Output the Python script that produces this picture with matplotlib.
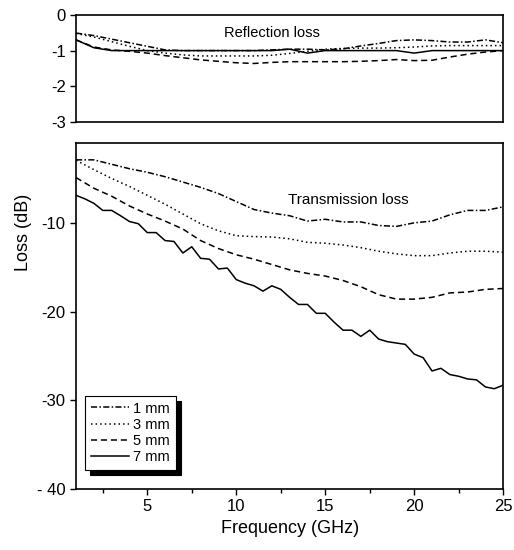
import matplotlib
matplotlib.use('Agg')
import matplotlib.pyplot as plt
from matplotlib.patches import Shadow

plt.rcParams['font.family'] = ['Liberation Sans', 'DejaVu Sans']
plt.rcParams['axes.unicode_minus'] = False

# frequency grids (GHz)
freq = list(range(1, 26))
freq_fine = [1 + 0.5 * i for i in range(49)]

# reflection loss (dB)
refl_1mm = [-0.51, -0.58, -0.68, -0.78, -0.88, -0.98, -1.0, -1.0, -1.0, -1.0, -1.0, -0.98, -0.96,
            -0.96, -0.98, -0.95, -0.87, -0.8, -0.72, -0.70, -0.72, -0.76, -0.76, -0.70, -0.78]
refl_3mm = [-0.52, -0.62, -0.75, -0.88, -1.0, -1.07, -1.12, -1.15, -1.15, -1.15, -1.15, -1.13, -1.08,
            -1.02, -0.96, -0.94, -0.93, -0.93, -0.92, -0.9, -0.87, -0.86, -0.86, -0.86, -0.86]
refl_5mm = [-0.7, -0.9, -0.98, -1.02, -1.07, -1.14, -1.2, -1.26, -1.3, -1.34, -1.36, -1.33, -1.31,
            -1.31, -1.31, -1.31, -1.30, -1.28, -1.25, -1.28, -1.27, -1.18, -1.1, -1.04, -1.0]
refl_7mm = [-0.7, -0.92, -1.0, -1.0, -1.0, -1.0, -1.0, -1.0, -1.0, -1.0, -1.0, -1.0, -0.96,
            -1.07, -1.0, -1.0, -1.0, -1.0, -1.0, -1.07, -1.0, -1.0, -1.0, -1.0, -1.0]

# transmission loss (dB)
trans_1mm = [-2.9, -2.9, -3.4, -3.9, -4.3, -4.8, -5.4, -6.0, -6.7, -7.6, -8.5, -8.9, -9.2,
             -9.8, -9.6, -9.9, -9.9, -10.3, -10.4, -10.0, -9.8, -9.1, -8.6, -8.6, -8.2]
trans_3mm = [-2.95, -4.0, -5.0, -5.9, -6.9, -7.9, -9.0, -10.1, -10.9, -11.45, -11.55, -11.6, -11.8,
             -12.2, -12.3, -12.5, -12.8, -13.2, -13.5, -13.7, -13.7, -13.4, -13.2, -13.2, -13.3]
trans_5mm = [-4.9, -6.1, -7.0, -8.1, -9.0, -9.8, -10.7, -12.0, -12.9, -13.6, -14.1, -14.7, -15.3,
             -15.7, -16.0, -16.5, -17.2, -18.1, -18.6, -18.6, -18.4, -17.9, -17.8, -17.5, -17.4]
trans_7mm = [-6.9, -7.3, -7.8, -8.6, -8.6, -9.2, -9.85, -10.1, -11.1, -11.1, -12.0, -12.1, -13.4,
             -12.7, -14.0, -14.1, -15.2, -15.1, -16.4, -16.8, -17.1, -17.7, -17.1, -17.5, -18.4,
             -19.2, -19.2, -20.2, -20.2, -21.2, -22.1, -22.1, -22.8, -22.1, -23.1, -23.4, -23.55,
             -23.7, -24.8, -25.2, -26.7, -26.4, -27.1, -27.3, -27.6, -27.7, -28.5, -28.7, -28.3]

labels = ['1 mm', '3 mm', '5 mm', '7 mm']
styles = [(0, (4, 1.5, 1, 1.5)), (0, (1, 2)), (0, (4, 2.5)), '-']

fig = plt.figure(figsize=(5.14, 5.50), dpi=100)
ax1 = fig.add_axes([0.148, 0.778, 0.831, 0.195])
ax2 = fig.add_axes([0.148, 0.111, 0.831, 0.629])

refl = [refl_1mm, refl_3mm, refl_5mm, refl_7mm]
for r, ls in zip(refl, styles):
    ax1.plot(freq, r, color='black', linestyle=ls, lw=1.1)
ax1.set_xlim(1, 25)
ax1.set_ylim(-3, 0)
ax1.set_yticks([0, -1, -2, -3])
ax1.set_xticks([])
ax1.text(12.0, -0.5, 'Reflection loss', ha='center', va='center', fontsize=10.5)

trans = [(freq, trans_1mm), (freq, trans_3mm), (freq, trans_5mm), (freq_fine, trans_7mm)]
for (f, t), ls, lab in zip(trans, styles, labels):
    ax2.plot(f, t, color='black', linestyle=ls, lw=1.1, label=lab)
ax2.set_xlim(1, 25)
ax2.set_ylim(-40, -1)
ax2.set_yticks([-10, -20, -30, -40])
ax2.set_yticklabels(['-10', '-20', '-30', '- 40'])
ax2.set_xticks([5, 10, 15, 20, 25])
ax2.set_xticks([2.5, 7.5, 12.5, 17.5, 22.5], minor=True)
ax2.text(16.3, -7.4, 'Transmission loss', ha='center', va='center', fontsize=11)
ax2.set_xlabel('Frequency (GHz)', fontsize=13)
fig.text(0.045, 0.578, 'Loss (dB)', rotation=90, ha='center', va='center', fontsize=13)

for ax in (ax1, ax2):
    for s in ax.spines.values():
        s.set_linewidth(1.2)
    ax.tick_params(labelsize=12, width=1.0, length=4)
ax2.tick_params(which='minor', length=3, width=1.0)

leg = ax2.legend(loc='lower left', bbox_to_anchor=(0.021, 0.055), borderaxespad=0,
                 fontsize=10.5, handlelength=2.6, labelspacing=0.15, handletextpad=0.3,
                 fancybox=False, edgecolor='black', framealpha=1)
leg.get_frame().set_linewidth(0.8)
leg.set_zorder(6)

fig.canvas.draw()
sh = Shadow(leg.legendPatch, 3.6, -3.6, facecolor='black', edgecolor='black', alpha=1)
sh.set_zorder(5.5)
ax2.add_artist(sh)

fig.savefig('out.png', dpi=100)
